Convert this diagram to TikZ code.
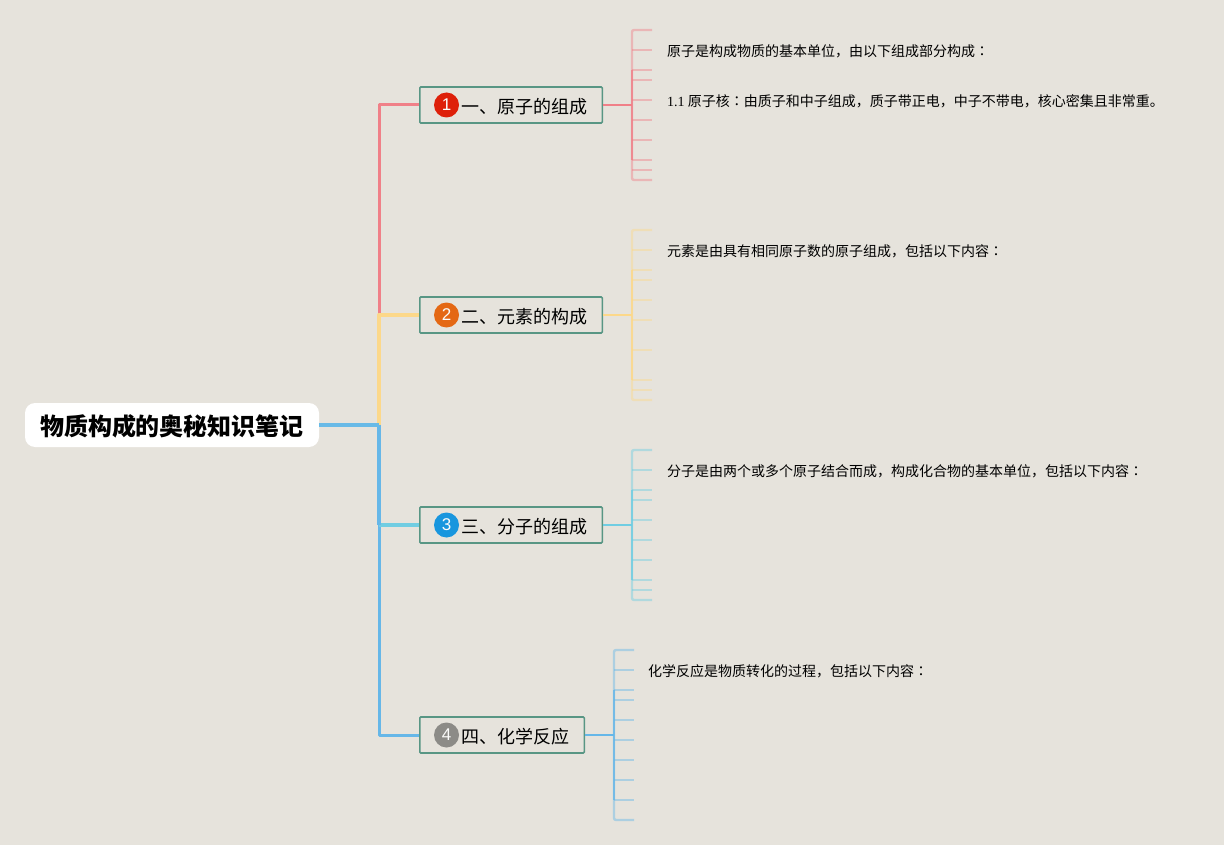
\documentclass[tikz,border=0pt]{standalone}
\usepackage{fontspec}
\setmainfont{Noto Sans CJK SC}
\newfontfamily\numfont{Liberation Serif}
\newfontfamily\badgefont{Liberation Sans}
\newfontfamily\colonfont{Noto Sans CJK TC}
\newcommand{\midcolon}{{\colonfont ：}}
\definecolor{paper}{RGB}{230,227,220}
\definecolor{boxgreen}{RGB}{88,150,132}
\definecolor{linered}{RGB}{240,128,136}
\definecolor{lineyellow}{RGB}{252,216,138}
\definecolor{linecyan}{RGB}{112,205,226}
\definecolor{lineblue}{RGB}{102,183,232}
\definecolor{badgered}{RGB}{222,32,10}
\definecolor{badgeorange}{RGB}{228,104,20}
\definecolor{badgeblue}{RGB}{24,150,222}
\definecolor{badgegrey}{RGB}{140,139,135}
\tikzset{
  rootbox/.style={fill=white,rounded corners=10pt,minimum width=294pt,minimum height=44pt,inner sep=0pt,font=\fontsize{24}{24}\selectfont\bfseries},
  topicbox/.style={draw=boxgreen,line width=1.6pt,rounded corners=1pt,minimum height=36pt,inner sep=0pt,anchor=west},
  topictext/.style={font=\fontsize{18}{18}\selectfont,inner sep=0pt,anchor=west},
  badge/.style={circle,minimum size=25pt,inner sep=0pt,text=white!85!paper,font=\fontsize{17}{17}\selectfont\badgefont},
  note/.style={font=\fontsize{14}{14}\selectfont,inner sep=0pt,anchor=west},
  trunk/.style={line width=#1,line join=round},
  tick/.style={line width=1.8pt,opacity=0.45},
  spine/.style={line width=2.4pt,rounded corners=2pt,opacity=0.45},
  spinemid/.style={line width=2.4pt,opacity=0.8}
}
\begin{document}
\begin{tikzpicture}[x=1pt,y=-1pt]
    \useasboundingbox (0,0) rectangle (1224,845);
    \fill[paper] (0,0) rectangle (1224,845);

    % centre and topics
    \node[rootbox] (root) at (172,425) {\raisebox{-10.5pt}[0pt][0pt]{物质构成的奥秘知识笔记}};
    \node[topicbox,minimum width=182.5pt] (topicA) at (419,105) {};
    \node[topicbox,minimum width=182.5pt] (topicB) at (419,315) {};
    \node[topicbox,minimum width=182.5pt] (topicC) at (419,525) {};
    \node[topicbox,minimum width=164.5pt] (topicD) at (419,735) {};

    \node[badge,fill=badgered] (badgeA) at (446.5,105) {1};
    \node[badge,fill=badgeorange] (badgeB) at (446.5,315) {2};
    \node[badge,fill=badgeblue] (badgeC) at (446.5,525) {3};
    \node[badge,fill=badgegrey] (badgeD) at (446.5,735) {4};

    \node[topictext] (labelA) at (461,107) {一、原子的组成};
    \node[topictext] (labelB) at (461,317) {二、元素的构成};
    \node[topictext] (labelC) at (461,527) {三、分子的组成};
    \node[topictext] (labelD) at (461,737) {四、化学反应};

    % notes
    \node[note] (noteA) at (667,51) {原子是构成物质的基本单位，由以下组成部分构成\midcolon};
    \node[note] (noteAA) at (667,101) {{\numfont 1.1} 原子核\midcolon 由质子和中子组成，质子带正电，中子不带电，核心密集且非常重。};
    \node[note] (noteB) at (667,251) {元素是由具有相同原子数的原子组成，包括以下内容\midcolon};
    \node[note] (noteC) at (667,471) {分子是由两个或多个原子结合而成，构成化合物的基本单位，包括以下内容\midcolon};
    \node[note] (noteD) at (648,671) {化学反应是物质转化的过程，包括以下内容\midcolon};

    % trunk
    \coordinate (fork) at (379,425);
    \coordinate (forkB) at (379,315);
    \coordinate (forkC) at (379,525);
    \coordinate (cornerA) at (379,105);
    \coordinate (cornerD) at (379,735);
    \draw[trunk=3pt,linered] (forkB) -- (cornerA) -- (topicA.west);
    \draw[trunk=3pt,lineblue] (forkC) -- (cornerD) -- (topicD.west);
    \draw[trunk=4.5pt,lineyellow] (fork) -- (forkB) -- (topicB.west);
    \draw[trunk=4.5pt,linecyan] (forkC) -- (topicC.west);
    \draw[trunk=4pt,lineblue] (fork) -- (forkC);
    \draw[trunk=4pt,lineblue!85!linecyan] (root.east) -- (fork);

    % first branch
    \coordinate (hubA) at (632,105);
    \draw[linered,line width=2pt] (topicA.east) -- (hubA);
    \draw[spine,linered] (652,30) -- (632,30) -- (632,180) -- (652,180);
    \draw[spinemid,linered] (632,70) -- (632,160);
    \foreach \y in {50,70,80,100,120,140,160,170} {
        \coordinate (a\y) at (632,\y);
        \coordinate (b\y) at (652,\y);
        \draw[tick,linered] (a\y) -- (b\y);
    }

    % second branch
    \coordinate (hubB) at (632,315);
    \draw[lineyellow,line width=2pt] (topicB.east) -- (hubB);
    \draw[spine,lineyellow] (652,230) -- (632,230) -- (632,400) -- (652,400);
    \draw[spinemid,lineyellow] (632,270) -- (632,380);
    \foreach \y in {250,270,280,300,320,350,380,390} {
        \coordinate (a\y) at (632,\y);
        \coordinate (b\y) at (652,\y);
        \draw[tick,lineyellow] (a\y) -- (b\y);
    }

    % third branch
    \coordinate (hubC) at (632,525);
    \draw[linecyan,line width=2pt] (topicC.east) -- (hubC);
    \draw[spine,linecyan] (652,450) -- (632,450) -- (632,600) -- (652,600);
    \draw[spinemid,linecyan] (632,490) -- (632,580);
    \foreach \y in {470,490,500,520,540,560,580,590} {
        \coordinate (a\y) at (632,\y);
        \coordinate (b\y) at (652,\y);
        \draw[tick,linecyan] (a\y) -- (b\y);
    }

    % fourth branch
    \coordinate (hubD) at (614,735);
    \draw[lineblue,line width=2pt] (topicD.east) -- (hubD);
    \draw[spine,lineblue] (634,650) -- (614,650) -- (614,820) -- (634,820);
    \draw[spinemid,lineblue] (614,690) -- (614,800);
    \foreach \y in {670,690,700,720,740,760,780,800} {
        \coordinate (a\y) at (614,\y);
        \coordinate (b\y) at (634,\y);
        \draw[tick,lineblue] (a\y) -- (b\y);
    }
\end{tikzpicture}
\end{document}
